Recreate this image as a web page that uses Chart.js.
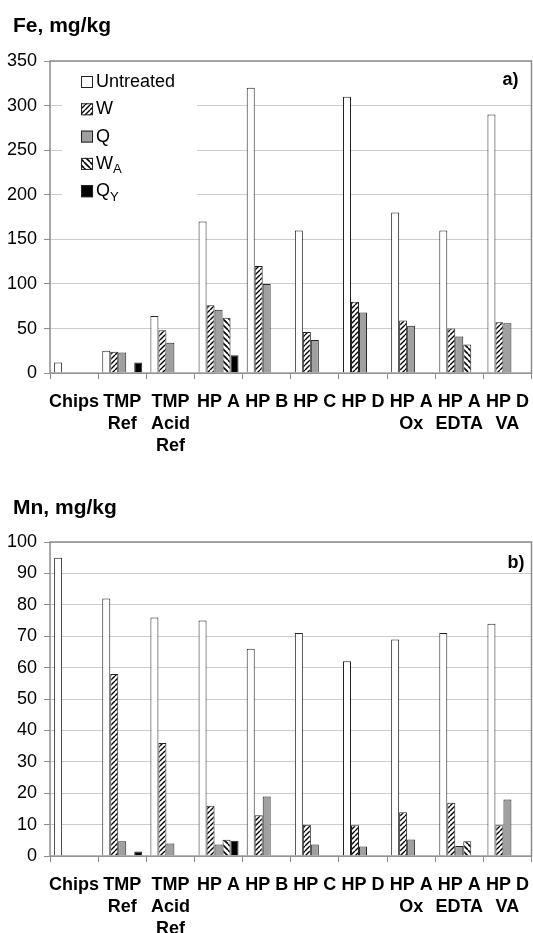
<!DOCTYPE html>
<html>
<head>
<meta charset="utf-8">
<script src="https://cdn.jsdelivr.net/npm/chart.js@4/dist/chart.umd.min.js"></script>
<style>
  html, body { margin: 0; padding: 0; background: #fff; overflow: hidden; }
  canvas { display: block; }
</style>
</head>
<body>
<canvas id="chartFe" width="533" height="466"></canvas>
<canvas id="chartMn" width="533" height="483"></canvas>
<script>
const FONT = "'Liberation Sans', Arial, sans-serif";

// categories (multi-line tick labels)
const categories = [
  ["Chips"], ["TMP", "Ref"], ["TMP", "Acid", "Ref"], ["HP A"], ["HP B"],
  ["HP C"], ["HP D"], ["HP A", "Ox"], ["HP A", "EDTA"], ["HP D", "VA"]
];

// series names (main text + subscript)
const seriesNames = ["Untreated", "W", "Q", "W", "Q"];
const seriesSubs = ["", "", "", "A", "Y"];

// Fe, mg/kg
const feUntreated = [12, 25, 64, 170, 320, 160, 310, 180, 160, 290];
const feW = [null, 24, 48, 76, 120, 46, 80, 59, 50, 57];
const feQ = [null, 23, 34, 71, 100, 37, 68, 53, 41, 56];
const feWA = [null, null, null, 62, null, null, null, null, 32, null];
const feQY = [null, 12, null, 20, null, null, null, null, null, null];

// Mn, mg/kg
const mnUntreated = [95, 82, 76, 75, 66, 71, 62, 69, 71, 74];
const mnW = [null, 58, 36, 16, 13, 10, 9.8, 14, 17, 9.8];
const mnQ = [null, 4.7, 4, 3.7, 19, 3.7, 3.1, 5.3, 3.2, 18];
const mnWA = [null, null, null, 5.2, null, null, null, null, 4.7, null];
const mnQY = [null, 1.5, null, 4.9, null, null, null, null, null, null];

// hatch patterns
function hatch(size, forward, lw) {
  const c = document.createElement("canvas");
  c.width = size; c.height = size;
  const g = c.getContext("2d");
  g.fillStyle = "#fff";
  g.fillRect(0, 0, size, size);
  g.strokeStyle = "#000";
  g.lineWidth = lw;
  g.beginPath();
  for (let k = -1; k <= 1; k++) {
    if (forward) {
      g.moveTo(k * size, size); g.lineTo(k * size + size, 0);
    } else {
      g.moveTo(k * size, 0); g.lineTo(k * size + size, size);
    }
  }
  g.stroke();
  return g.createPattern(c, "repeat");
}
const fills = ["#ffffff", hatch(5, true, 1.4), "#a0a0a0", hatch(6, false, 1.6), "#000000"];

function makeSets(arrs) {
  return arrs.map((d, i) => ({
    label: seriesNames[i] + seriesSubs[i],
    data: d,
    backgroundColor: fills[i],
    borderColor: "#222",
    borderWidth: 1,
    categoryPercentage: 0.83,
    barPercentage: 1.0
  }));
}

// plot frame, title, panel letter, legend
const decor = {
  id: "decor",
  beforeDatasetsDraw(chart) {
    const o = chart.options.plugins.decor;
    if (!o.legend) return;
    const ctx = chart.ctx, a = chart.chartArea;
    ctx.save();
    ctx.fillStyle = "#fff";
    ctx.fillRect(a.left + 12, a.top + 3, 135, 140);
    ctx.restore();
  },
  afterDraw(chart) {
    const o = chart.options.plugins.decor;
    const ctx = chart.ctx, a = chart.chartArea;
    ctx.save();
    ctx.strokeStyle = "#8c8c8c";
    ctx.lineWidth = 1.5;
    ctx.strokeRect(a.left, a.top, a.right - a.left, a.bottom - a.top);

    ctx.fillStyle = "#000";
    ctx.textBaseline = "alphabetic";
    ctx.textAlign = "left";
    ctx.font = "bold 21px " + FONT;
    ctx.fillText(o.title, 13, o.titleY);

    ctx.font = "bold 18px " + FONT;
    ctx.textAlign = "right";
    ctx.textBaseline = "middle";
    ctx.fillText(o.panel, a.right - o.panelDx, a.top + o.panelDy);

    if (o.legend) {
      ctx.textAlign = "left";
      chart.data.datasets.forEach((ds, i) => {
        const cy = a.top + 21 + i * 27.3;
        ctx.fillStyle = ds.backgroundColor;
        ctx.fillRect(a.left + 31, cy - 6, 12, 12);
        ctx.strokeStyle = "#222";
        ctx.lineWidth = 1;
        ctx.strokeRect(a.left + 31.5, cy - 5.5, 11, 11);
        ctx.fillStyle = "#000";
        ctx.font = "18px " + FONT;
        ctx.fillText(seriesNames[i], a.left + 46, cy);
        if (seriesSubs[i]) {
          const w = ctx.measureText(seriesNames[i]).width;
          ctx.font = "13px " + FONT;
          ctx.fillText(seriesSubs[i], a.left + 46 + w, cy + 6);
        }
      });
    }
    ctx.restore();
  }
};

function makeChart(id, sets, max, step, decorOpts, padTop) {
  return new Chart(document.getElementById(id), {
    type: "bar",
    data: { labels: categories, datasets: makeSets(sets) },
    plugins: [decor],
    options: {
      responsive: false,
      animation: false,
      layout: { padding: { top: padTop, left: 0, right: 1.5, bottom: -3 } },
      plugins: {
        legend: { display: false },
        tooltip: { enabled: false },
        decor: decorOpts
      },
      scales: {
        x: {
          grid: { offset: true, drawOnChartArea: false, drawTicks: true, tickLength: 6, color: "#8c8c8c" },
          border: { display: false },
          afterFit(scale) {
            scale.paddingLeft = 0;
            scale.paddingRight = 0;
          },
          ticks: {
            autoSkip: false, maxRotation: 0, minRotation: 0, padding: 12,
            color: "#000",
            font: { family: FONT, size: 18, weight: "bold", lineHeight: 1.22 }
          }
        },
        y: {
          min: 0, max: max,
          grid: { color: "#cccccc", tickColor: "#8c8c8c", tickLength: 6 },
          border: { display: false },
          afterFit(scale) {
            scale.paddingBottom = 0;
          },
          ticks: { stepSize: step, padding: 7, color: "#000", font: { family: FONT, size: 18 } }
        }
      }
    }
  });
}

makeChart("chartFe", [feUntreated, feW, feQ, feWA, feQY], 350, 50,
  { title: "Fe, mg/kg", titleY: 32, panel: "a)", panelDx: 13, panelDy: 19, legend: true }, 61);
makeChart("chartMn", [mnUntreated, mnW, mnQ, mnWA, mnQY], 100, 10,
  { title: "Mn, mg/kg", titleY: 48, panel: "b)", panelDx: 7, panelDy: 21, legend: false }, 76);
</script>
</body>
</html>
